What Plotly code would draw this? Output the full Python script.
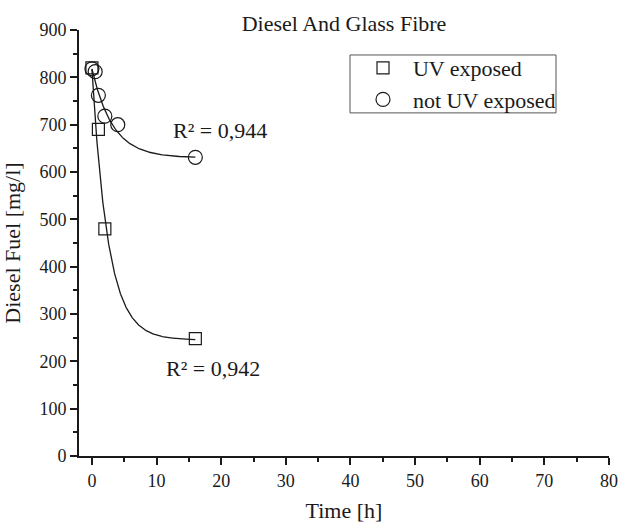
import numpy as np
import plotly.graph_objects as go

# ---- data ----
time_uv = [0, 1, 2, 16]
fuel_uv = [820, 690, 480, 248]

time_no_uv = [0, 0.5, 1, 2, 4, 16]
fuel_no_uv = [818, 812, 762, 718, 700, 631]

# exponential decay fit parameters (y0 + A*exp(-x/t))
fit_uv = {"y0": 245, "A": 572, "t": 2.5}
fit_no_uv = {"y0": 630, "A": 188, "t": 3.2}

r2_uv = "R² = 0,942"
r2_no_uv = "R² = 0,944"

series_names = ["UV exposed", "not UV exposed"]

x_ticks = list(range(0, 81, 10))
y_ticks = list(range(0, 901, 100))

FONT = "Liberation Serif, Times New Roman, serif"
INK = "#1a1a1a"
PAD = "\u00a0\u2009"

def fit_curve(p, xmax):
    xs = np.linspace(0, xmax, 300)
    return xs, p["y0"] + p["A"] * np.exp(-xs / p["t"])

fig = go.Figure()

xu, yu = fit_curve(fit_uv, max(time_uv))
xn, yn = fit_curve(fit_no_uv, max(time_no_uv))
fig.add_trace(go.Scatter(x=xu, y=yu, mode="lines", line=dict(color=INK, width=1.3),
                         showlegend=False, hoverinfo="skip"))
fig.add_trace(go.Scatter(x=xn, y=yn, mode="lines", line=dict(color=INK, width=1.3),
                         showlegend=False, hoverinfo="skip"))

fig.add_trace(go.Scatter(x=time_uv, y=fuel_uv, mode="markers", name=PAD + series_names[0],
                         marker=dict(symbol="square-open", size=12, color=INK,
                                     line=dict(width=1.2, color=INK))))
fig.add_trace(go.Scatter(x=time_no_uv, y=fuel_no_uv, mode="markers", name=PAD + series_names[1],
                         marker=dict(symbol="circle-open", size=14, color=INK,
                                     line=dict(width=1.2, color=INK))))

fig.add_annotation(x=19.8, y=687, xref="x", yref="y", text=r2_no_uv, showarrow=False,
                   font=dict(family=FONT, size=22, color=INK))
fig.add_annotation(x=18.8, y=185, xref="x", yref="y", text=r2_uv, showarrow=False,
                   font=dict(family=FONT, size=22, color=INK))

# legend frame
fig.add_shape(type="rect", xref="paper", yref="paper",
              x0=(350 - 79) / 530, x1=(556 - 79) / 530,
              y0=(456.5 - 113) / 426.5, y1=(456.5 - 55) / 426.5,
              line=dict(color="#555555", width=1), fillcolor="rgba(0,0,0,0)")

axis_common = dict(
    showline=True, linecolor=INK, linewidth=2,
    ticks="outside", ticklen=7, tickwidth=2, tickcolor=INK,
    showgrid=False, zeroline=False, mirror=False, automargin=False,
    tickfont=dict(family=FONT, size=18, color=INK),
)

fig.update_xaxes(range=[-2, 80], tickvals=x_ticks,
                 minor=dict(ticks="outside", ticklen=4, tickwidth=2, tickcolor=INK, dtick=5,
                            tick0=0, showgrid=False),
                 title=dict(text="Time [h]", font=dict(family=FONT, size=22, color=INK), standoff=20),
                 **axis_common)
fig.update_yaxes(range=[0, 900], tickvals=y_ticks,
                 minor=dict(ticks="outside", ticklen=4, tickwidth=2, tickcolor=INK, dtick=50,
                            tick0=0, showgrid=False),
                 title=dict(text="Diesel Fuel [mg/l]", font=dict(family=FONT, size=22, color=INK), standoff=15),
                 **axis_common)

fig.update_layout(
    width=621, height=523,
    margin=dict(l=79, r=12, t=30, b=66.5, autoexpand=False),
    paper_bgcolor="white", plot_bgcolor="white",
    title=dict(text="Diesel And Glass Fibre", x=(79 + 609) / 2 / 621, xanchor="center",
               y=1 - 23.5 / 523, yanchor="middle", yref="container",
               font=dict(family=FONT, size=22, color=INK)),
    legend=dict(x=(363 - 79) / 530, y=(456.5 - 47) / 426.5, xanchor="left", yanchor="top",
                bgcolor="rgba(0,0,0,0)", borderwidth=0,
                font=dict(family=FONT, size=22, color=INK), tracegroupgap=0),
    font=dict(family=FONT, color=INK),
)

fig.write_html("out.html")
